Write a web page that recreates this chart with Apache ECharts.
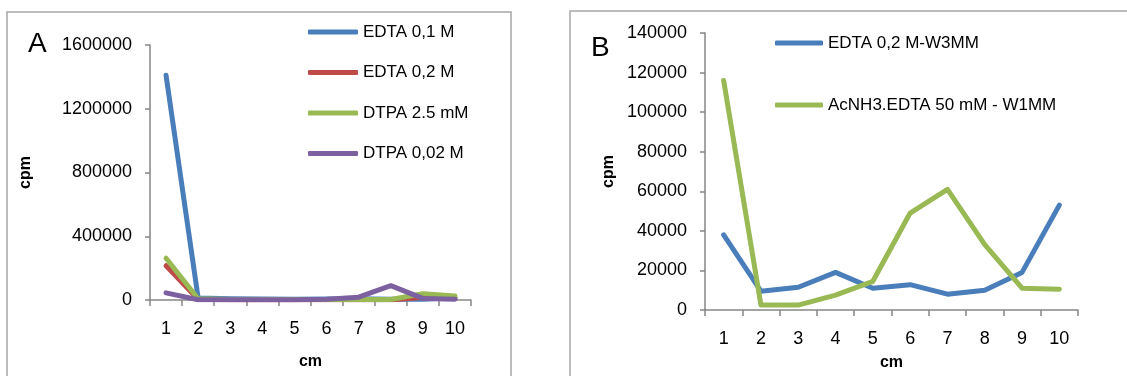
<!DOCTYPE html>
<html>
<head>
<meta charset="utf-8">
<script src="https://cdn.jsdelivr.net/npm/echarts@6/dist/echarts.min.js"></script>
<style>
  html, body { margin: 0; padding: 0; background: #fff; }
  #chart { width: 1127px; height: 376px; }
</style>
</head>
<body>
<div id="chart"></div>
<script>
const cmLabels = ["1", "2", "3", "4", "5", "6", "7", "8", "9", "10"];

// panel A
const edta01 = [1410000, 12000, 8000, 6000, 5000, 6000, 8000, 5000, 5000, 15000];
const edta02 = [215000, 5000, 2000, 2000, 2000, 2000, 2000, 2000, 15000, 10000];
const dtpa25 = [262000, 8000, 3000, 3000, 3000, 3000, 3000, 3000, 40000, 25000];
const dtpa002 = [45000, 2000, 2000, 2000, 2000, 5000, 18000, 90000, 10000, 5000];

// panel B
const edtaW3 = [38000, 9500, 11500, 19000, 11000, 12800, 8000, 10000, 19000, 53000];
const acnhW1 = [116000, 2500, 2500, 7500, 14500, 49000, 61000, 33000, 11000, 10500];

const FONT = "Liberation Sans";
const axisGrey = "#868686";

const chart = echarts.init(document.getElementById("chart"));

function xAxisCfg(gridIndex, nameGap) {
  return {
    type: "category",
    gridIndex: gridIndex,
    data: cmLabels,
    name: "cm",
    nameLocation: "middle",
    nameGap: nameGap,
    nameTextStyle: { fontFamily: FONT, fontSize: 16, fontWeight: "bold", color: "#000" },
    axisLine: { lineStyle: { color: axisGrey, width: 1.5 } },
    axisTick: { show: true, length: 6, lineStyle: { color: axisGrey, width: 1.5 } },
    axisLabel: { fontFamily: FONT, fontSize: 18, color: "#000", margin: 20 },
  };
}

function yAxisCfg(gridIndex, max, interval, nameGap) {
  return {
    type: "value",
    gridIndex: gridIndex,
    min: 0,
    max: max,
    interval: interval,
    name: "cpm",
    nameLocation: "middle",
    nameRotate: 90,
    nameGap: nameGap,
    nameTextStyle: { fontFamily: FONT, fontSize: 16, fontWeight: "bold", color: "#000" },
    axisLine: { show: true, lineStyle: { color: axisGrey, width: 1.5 } },
    axisTick: { show: true, length: 5, lineStyle: { color: axisGrey, width: 1.5 } },
    axisLabel: {
      fontFamily: FONT, fontSize: 18, color: "#000", margin: 18,
      formatter: (v) => String(v),
    },
    splitLine: { show: false },
  };
}

function lineSeries(name, data, color, idx) {
  return {
    name: name,
    type: "line",
    xAxisIndex: idx,
    yAxisIndex: idx,
    data: data,
    showSymbol: false,
    color: color,
    lineStyle: { width: 5, color: color, cap: "round", join: "round" },
  };
}

const option = {
  animation: false,
  grid: [
    { left: 150, top: 45, width: 321, height: 255 },
    { left: 705, top: 33, width: 373, height: 279 },
  ],
  xAxis: [xAxisCfg(0, 54), xAxisCfg(1, 45)],
  yAxis: [yAxisCfg(0, 1600000, 400000, 116), yAxisCfg(1, 140000, 20000, 88)],
  legend: [
    {
      left: 308,
      top: 22,
      padding: 0,
      orient: "vertical",
      icon: "roundRect",
      itemWidth: 50,
      itemHeight: 5,
      itemGap: 20.5,
      textStyle: { fontFamily: FONT, fontSize: 17, color: "#000", lineHeight: 20 },
      data: ["EDTA 0,1 M", "EDTA 0,2 M", "DTPA 2.5 mM", "DTPA 0,02 M"],
    },
    {
      left: 775,
      top: 33,
      padding: 0,
      orient: "vertical",
      icon: "roundRect",
      itemWidth: 48,
      itemHeight: 5,
      itemGap: 42,
      textStyle: { fontFamily: FONT, fontSize: 17, color: "#000", lineHeight: 20 },
      data: ["EDTA 0,2 M-W3MM", "AcNH3.EDTA 50 mM - W1MM"],
    },
  ],
  graphic: [
    {
      type: "rect",
      shape: { x: 7, y: 12, width: 504, height: 380 },
      style: { fill: "none", stroke: "#a6a6a6", lineWidth: 1.5 },
      silent: true,
    },
    {
      type: "rect",
      shape: { x: 570, y: 11, width: 600, height: 380 },
      style: { fill: "none", stroke: "#a6a6a6", lineWidth: 1.5 },
      silent: true,
    },
    {
      type: "text",
      left: 28,
      top: 30,
      style: { text: "A", fontFamily: FONT, fontSize: 28, fill: "#000" },
    },
    {
      type: "text",
      left: 591,
      top: 34,
      style: { text: "B", fontFamily: FONT, fontSize: 28, fill: "#000" },
    },
  ],
  series: [
    lineSeries("EDTA 0,1 M", edta01, "#4a7ebb", 0),
    lineSeries("EDTA 0,2 M", edta02, "#be4b48", 0),
    lineSeries("DTPA 2.5 mM", dtpa25, "#98b954", 0),
    lineSeries("DTPA 0,02 M", dtpa002, "#7d60a0", 0),
    lineSeries("EDTA 0,2 M-W3MM", edtaW3, "#4a7ebb", 1),
    lineSeries("AcNH3.EDTA 50 mM - W1MM", acnhW1, "#98b954", 1),
  ],
};

chart.setOption(option);
</script>
</body>
</html>
